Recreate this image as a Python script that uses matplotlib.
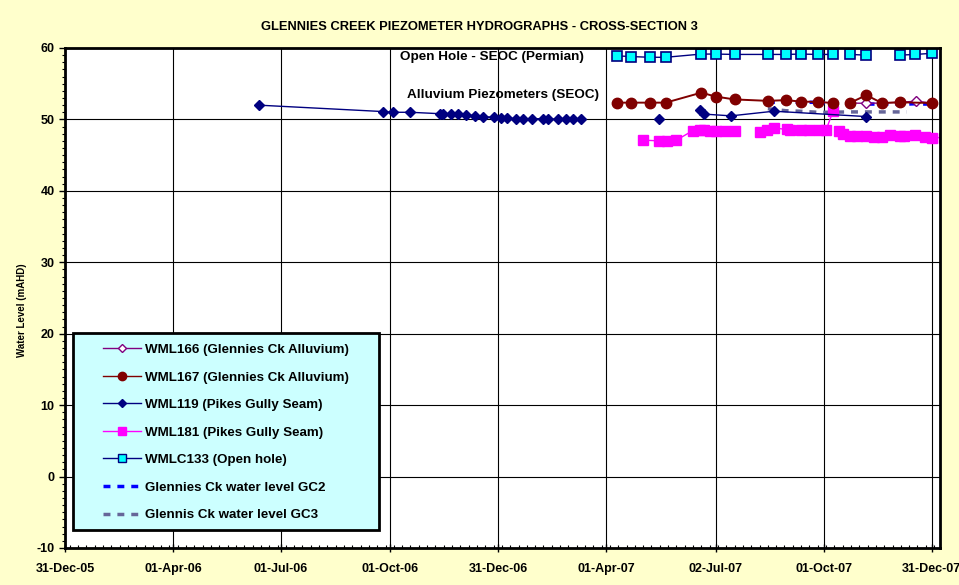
import numpy as np
import pandas as pd
import matplotlib
matplotlib.use("Agg")
from matplotlib import pyplot as plt
import matplotlib.dates as mdates
from matplotlib.patches import Rectangle
from matplotlib.lines import Line2D

plt.rcParams['font.family'] = ['Liberation Sans', 'DejaVu Sans']
plt.rcParams['font.weight'] = 'bold'
plt.rcParams['axes.unicode_minus'] = False

##### DATA (None = break in the line) #####

wml166_dates = ['2007-10-23', '2007-11-06', '2007-11-19', '2007-12-04', '2007-12-18', '2007-12-31']
wml166_vals = [52.3, 52.25, 52.3, 52.4, 52.55, 52.3]

wml167_dates = ['2007-04-10', '2007-04-22', '2007-05-08', '2007-05-21', '2007-06-20', '2007-07-02',
                '2007-07-18', '2007-08-15', '2007-08-30', '2007-09-12', '2007-09-26', '2007-10-09',
                '2007-10-15',
                '2007-10-23', '2007-11-06', '2007-11-19', '2007-12-04', '2007-12-31']
wml167_vals = [52.35, 52.35, 52.35, 52.35, 53.75, 53.2,
               52.8, 52.6, 52.7, 52.5, 52.45, 52.3,
               None,
               52.3, 53.4, 52.3, 52.4, 52.3]

wml119_dates = ['2006-06-12', '2006-09-25', '2006-10-03', '2006-10-18', '2006-11-12', '2006-11-14',
                '2006-11-21', '2006-11-27', '2006-12-04', '2006-12-11', '2006-12-18', '2006-12-27',
                '2007-01-02', '2007-01-07', '2007-01-15', '2007-01-21', '2007-01-28', '2007-02-07',
                '2007-02-11', '2007-02-19', '2007-02-26', '2007-03-04', '2007-03-11',
                '2007-04-10',
                '2007-05-15',
                '2007-06-01',
                '2007-06-19', '2007-06-22', '2007-07-15', '2007-08-20', '2007-11-06']
wml119_vals = [52.0, 51.1, 51.0, 51.0, 50.8, 50.8,
               50.75, 50.7, 50.6, 50.55, 50.4, 50.3,
               50.2, 50.2, 50.1, 50.1, 50.1, 50.1,
               50.1, 50.0, 50.0, 50.0, 50.0,
               None,
               50.0,
               None,
               51.35, 50.75, 50.5, 51.15, 50.4]

wml181_dates = ['2007-05-02', '2007-05-15', '2007-05-22', '2007-05-30', '2007-06-13', '2007-06-19',
                '2007-06-22', '2007-06-27', '2007-07-02', '2007-07-10', '2007-07-18',
                '2007-07-25',
                '2007-08-08', '2007-08-14', '2007-08-20', '2007-08-31', '2007-09-03', '2007-09-12',
                '2007-09-19', '2007-09-27', '2007-10-03', '2007-10-09',
                '2007-10-11',
                '2007-10-14', '2007-10-17', '2007-10-23', '2007-10-29', '2007-11-06', '2007-11-12',
                '2007-11-19', '2007-11-26', '2007-12-04', '2007-12-08', '2007-12-17', '2007-12-25',
                '2007-12-31', '2008-01-10']
wml181_vals = [47.1, 47.0, 47.0, 47.1, 48.45, 48.55,
               48.55, 48.45, 48.45, 48.4, 48.4,
               None,
               48.2, 48.5, 48.8, 48.6, 48.5, 48.5,
               48.5, 48.5, 48.5, 51.2,
               None,
               48.4, 47.9, 47.7, 47.7, 47.7, 47.6,
               47.6, 47.8, 47.7, 47.7, 47.8, 47.6,
               47.45, 47.45]

wmlc133_dates = ['2007-04-10', '2007-04-22', '2007-05-08', '2007-05-21', '2007-06-20', '2007-07-02',
                 '2007-07-18', '2007-08-15', '2007-08-30', '2007-09-12', '2007-09-26', '2007-10-09',
                 '2007-10-15',
                 '2007-10-23', '2007-11-06',
                 '2007-11-20',
                 '2007-12-04', '2007-12-17', '2007-12-31']
wmlc133_vals = [58.9, 58.8, 58.7, 58.7, 59.15, 59.15,
                59.1, 59.1, 59.1, 59.15, 59.1, 59.1,
                None,
                59.1, 59.0,
                None,
                59.0, 59.1, 59.25]

gc2_dates = ['2007-08-15', '2007-08-30', '2007-09-12', '2007-09-26', '2007-10-02',
             '2007-10-20',
             '2007-11-07', '2007-11-10', '2007-11-14', '2007-11-19', '2007-11-27', '2007-12-04',
             '2007-12-11', '2007-12-18', '2007-12-25', '2007-12-31']
gc2_vals = [52.4, 52.4, 52.4, 52.4, 52.3,
            None,
            52.15, 52.15, 52.15, 52.15, 52.15, 52.15,
            52.15, 52.2, 52.15, 52.15]

gc3_dates = ['2007-08-15', '2007-08-30', '2007-09-12', '2007-09-26', '2007-10-03', '2007-10-22',
             '2007-11-03', '2007-11-14', '2007-11-27', '2007-12-04', '2007-12-10']
gc3_vals = [51.5, 51.22, 51.14, 51.0, 51.0, 51.05,
            51.05, 51.05, 51.05, 51.05, 51.05]

tick_dates = ['2005-12-31', '2006-04-01', '2006-07-01', '2006-10-01', '2006-12-31',
              '2007-04-01', '2007-07-02', '2007-10-01', '2007-12-31']

labels = ['WML166 (Glennies Ck Alluvium)', 'WML167 (Glennies Ck Alluvium)',
          'WML119 (Pikes Gully Seam)', 'WML181 (Pikes Gully Seam)',
          'WMLC133 (Open hole)', 'Glennies Ck water level GC2', 'Glennis Ck water level GC3']


def series(dates, vals):
	d = pd.to_datetime(dates)
	v = np.array([np.nan if x is None else x for x in vals], dtype=float)
	return d, v


##### FIGURE #####

fig = plt.figure(figsize=(9.59, 5.85), dpi=100, facecolor='#FFFFCC')
ax = fig.add_axes([65 / 959, 37 / 585, 875 / 959, 500 / 585])
ax.set_facecolor('white')

styles = [
	(wml166_dates, wml166_vals, dict(color='#800080', marker='D', ms=5, mfc='white', mec='#800080', lw=1)),
	(wml167_dates, wml167_vals, dict(color='#800000', marker='o', ms=7.5, mfc='#800000', mec='#800000', lw=1.4)),
	(wml119_dates, wml119_vals, dict(color='#000080', marker='D', ms=5, mfc='#000080', mec='#000080', lw=1)),
	(wml181_dates, wml181_vals, dict(color='#FF00FF', marker='s', ms=7, mfc='#FF00FF', mec='#FF00FF', lw=1)),
	(wmlc133_dates, wmlc133_vals, dict(color='#000080', marker='s', ms=6.5, mfc='#00FFFF', mec='#000080', mew=1.2, lw=1)),
	(gc2_dates, gc2_vals, dict(color='#0000FF', lw=2.5, ls=(0, (2, 2)))),
	(gc3_dates, gc3_vals, dict(color='#666699', lw=2.5, ls=(0, (2, 2)))),
]
# drawing order, back to front
order = [6, 5, 3, 2, 0, 1, 4]
for z, i in enumerate(order):
	d, v = series(styles[i][0], styles[i][1])
	ax.plot(d, v, zorder=3 + z, **styles[i][2])

ax.set_ylim(-10, 60)
ax.set_xlim(pd.Timestamp('2005-12-31'), pd.Timestamp('2008-01-07'))
ax.set_yticks(np.arange(-10, 61, 10))
ax.set_yticks(np.arange(-10, 61, 1), minor=True)
ax.set_xticks(pd.to_datetime(tick_dates))
ax.xaxis.set_major_formatter(mdates.DateFormatter('%d-%b-%y'))
ax.xaxis.set_minor_locator(mdates.DayLocator(interval=7))
ax.grid(True, which='major', color='black', lw=0.8)
ax.set_axisbelow(True)
ax.tick_params(axis='both', which='major', labelsize=9, length=4, width=1)
ax.tick_params(axis='x', which='major', direction='inout', length=6, pad=8)
ax.tick_params(axis='y', which='minor', length=2.5, width=0.8)
ax.tick_params(axis='x', which='minor', direction='in', length=2.5, width=0.8)
for lab in ax.get_xticklabels() + ax.get_yticklabels():
	lab.set_fontweight('bold')
for s in ax.spines.values():
	s.set_linewidth(2)
	s.set_zorder(20)

ax.set_ylabel('Water Level (mAHD)', fontsize=7, fontweight='bold')
ax.yaxis.set_label_coords(-0.043, 0.476)

fig.text(479 / 959, 1 - 27 / 585, 'GLENNIES CREEK PIEZOMETER HYDROGRAPHS - CROSS-SECTION 3',
	ha='center', va='center', fontsize=9.3, fontweight='bold')

fig.text(492 / 959, 1 - 57 / 585, 'Open Hole - SEOC (Permian)', ha='center', va='center',
	fontsize=9.7, fontweight='bold', zorder=30)
fig.text(503 / 959, 1 - 95 / 585, 'Alluvium Piezometers (SEOC)', ha='center', va='center',
	fontsize=9.7, fontweight='bold', zorder=30)

# legend box drawn by hand, legend frameless on top of it
box = Rectangle((73 / 959, 1 - 530 / 585), (379 - 73) / 959, (530 - 333) / 585,
	transform=fig.transFigure, facecolor='#CCFFFF', edgecolor='black', lw=2, zorder=40)
fig.patches.append(box)

handles = [
	Line2D([], [], color='#800080', marker='D', ms=4, mfc='white', mec='#800080', lw=1),
	Line2D([], [], color='#800000', marker='o', ms=6, mfc='#800000', lw=1),
	Line2D([], [], color='#000080', marker='D', ms=4, mfc='#000080', lw=1),
	Line2D([], [], color='#FF00FF', marker='s', ms=6, mfc='#FF00FF', lw=1),
	Line2D([], [], color='#000080', marker='s', ms=5.5, mfc='#00FFFF', mec='#000080', lw=1),
	Line2D([], [], color='#0000FF', lw=2.5, ls=(0, (2, 2))),
	Line2D([], [], color='#666699', lw=2.5, ls=(0, (2, 2))),
]
leg = fig.legend(handles, labels, loc='upper left', bbox_to_anchor=(92 / 959, 1 - 333 / 585),
	frameon=False, fontsize=9.6, labelspacing=1.14, handlelength=2.9, handletextpad=0.3,
	borderpad=0.3)
leg.set_zorder(50)
for t in leg.get_texts():
	t.set_fontweight('bold')

fig.savefig('out.png', dpi=100, facecolor=fig.get_facecolor())
